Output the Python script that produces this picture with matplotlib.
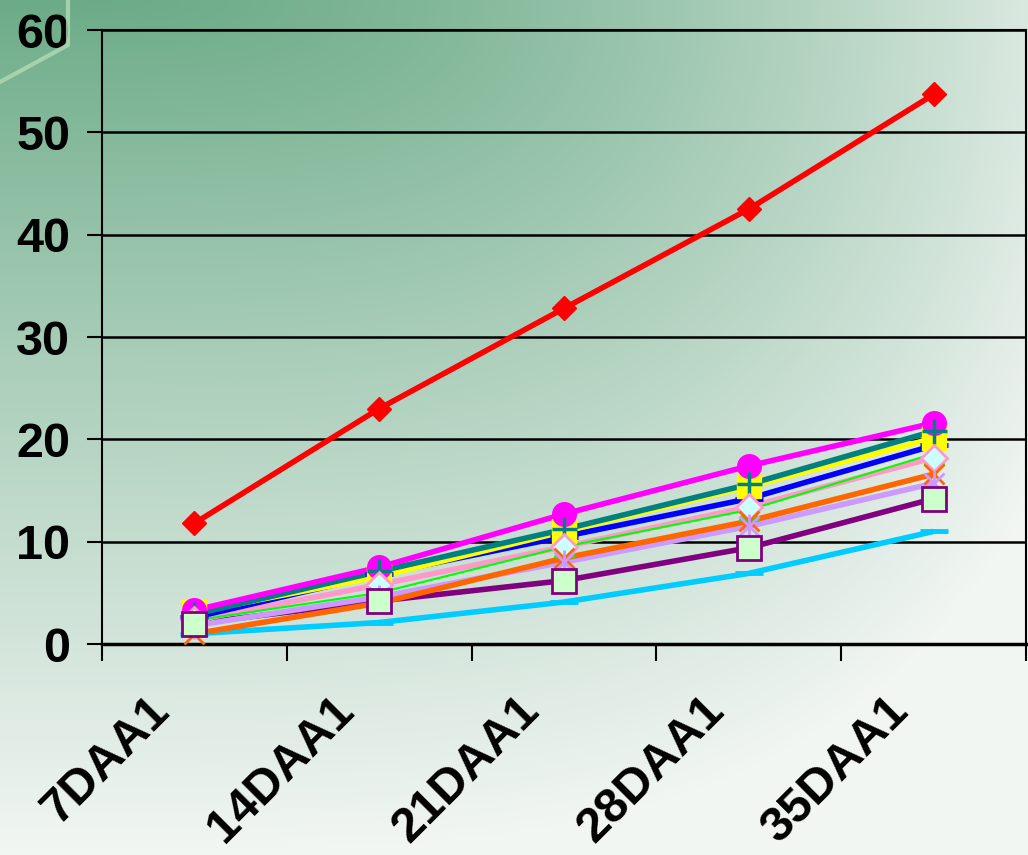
import numpy as np
import matplotlib.pyplot as plt
import matplotlib.transforms as mtransforms
from matplotlib.lines import Line2D

plt.rcParams['font.family'] = ['Liberation Sans', 'DejaVu Sans']
plt.rcParams['font.weight'] = 'bold'

days = ["7DAA1", "14DAA1", "21DAA1", "28DAA1", "35DAA1"]

red = [11.8, 23.0, 32.8, 42.5, 53.7]
magenta = [3.3, 7.5, 12.7, 17.4, 21.6]
teal = [2.9, 7.1, 11.2, 15.6, 20.8]
yellow = [3.1, 6.6, 11.0, 15.4, 20.1]
blue = [2.6, 6.8, 10.5, 14.2, 19.4]
green = [2.3, 5.0, 9.5, 13.1, 18.6]
pink = [2.3, 5.8, 9.5, 13.4, 18.2]
orange = [1.0, 4.0, 8.4, 12.0, 16.6]
lavender = [1.8, 4.6, 8.0, 11.5, 15.7]
purple = [2.0, 4.2, 6.2, 9.4, 14.2]
cyan = [1.0, 2.1, 4.1, 6.9, 11.0]

x = np.arange(len(days))

fig = plt.figure(figsize=(10.28, 8.55), dpi=100)

# background gradient, dark green top-left fading to near white
bg = fig.add_axes([0, 0, 1, 1], zorder=-10)
gx, gy = np.meshgrid(np.linspace(0, 1, 400), np.linspace(0, 1, 340))
t = np.clip(np.sqrt((0.8 * gx ** 2) ** 2 + gy ** 2), 0, 1) ** 0.9
dark = np.array([0.42, 0.67, 0.53])
light = np.array([0.95, 0.965, 0.955])
img = dark[None, None, :] * (1 - t[..., None]) + light[None, None, :] * t[..., None]
bg.imshow(img, aspect='auto', extent=[0, 1, 1, 0])
bg.set_xlim(0, 1)
bg.set_ylim(1, 0)
bg.axis('off')
fig.lines.append(Line2D([0, 68 / 1028, 68 / 1028], [1 - 82 / 855, 1 - 45 / 855, 1],
                        transform=fig.transFigure, color='#b2dbb4', lw=3, alpha=0.8))

ax = fig.add_axes([102 / 1028, 1 - 644 / 855, 924 / 1028, 614 / 855])
ax.set_facecolor('none')

# lines first, bottom to top
line_specs = [
    (cyan, '#00ccff', 4),
    (purple, '#800080', 4),
    (lavender, '#cc99ff', 4),
    (orange, '#ff6600', 4),
    (pink, '#ff99cc', 4),
    (green, '#00ff00', 1.5),
    (blue, '#0000ff', 4),
    (yellow, '#ffff00', 4),
    (teal, '#008080', 4),
    (magenta, '#ff00ff', 4),
    (red, '#ff0000', 4),
]
for i, (vals, col, lw) in enumerate(line_specs):
    ax.plot(x, vals, color=col, lw=lw, solid_capstyle='butt', zorder=3 + i * 0.01)

# markers on top of all lines
ax.plot(x, blue, ls='none', marker='_', ms=20, mew=3.5, color='#0000ff', zorder=3.98)
ax.plot(x, cyan, ls='none', marker='_', ms=20, mew=3.5, color='#00ccff', zorder=3.99)
ax.plot(x, yellow, ls='none', marker='s', ms=17, mfc='#ffff00', mec='#ffff00', zorder=4.0)
ax.plot(x, magenta, ls='none', marker='o', ms=17, mfc='#ff00ff', mec='#ff00ff', zorder=4.01)
ax.plot(x, teal, ls='none', marker='+', ms=18, mew=2.5, color='#008080', zorder=4.02)
ax.plot(x, green, ls='none', marker='^', ms=15, mfc='#00ff00', mec='#00ff00', zorder=4.03)
ax.plot(x, pink, ls='none', marker='D', ms=13, mfc='#ccffff', mec='#ff99cc', mew=2, zorder=4.04)
ax.plot(x, orange, ls='none', marker='x', ms=14, mew=2, color='#ff6600', zorder=4.05)
ax.plot(x, lavender, ls='none', marker='x', ms=14, mew=2, color='#cc99ff', zorder=4.06)
ax.plot(x, lavender, ls='none', marker='|', ms=18, mew=2, color='#cc99ff', zorder=4.06)
ax.plot(x, purple, ls='none', marker='s', ms=17, mfc='#ccffcc', mec='#800080', mew=2, zorder=4.07)
ax.plot(x, red, ls='none', marker='D', ms=12, mfc='#ff0000', mec='#ff0000', zorder=4.1)

ax.set_xlim(-0.5, 4.5)
ax.set_ylim(0, 60)
ax.set_yticks(np.arange(0, 61, 10))
ax.yaxis.grid(True, color='black', lw=1.8, zorder=1)
ax.set_axisbelow(True)

ax.set_xticks(x)
ax.set_xticklabels(days, rotation=45, ha='right', va='center', rotation_mode='anchor')
ax.set_xticks(np.arange(-0.5, 5, 1), minor=True)
ax.tick_params(axis='x', which='major', length=0, pad=50, labelsize=35)
ax.tick_params(axis='x', which='minor', length=12, width=1.5, color='black')
ax.tick_params(axis='y', length=11, width=1.5, pad=12, labelsize=35)

shift = mtransforms.ScaledTranslation(-32 / 100, 10 / 100, fig.dpi_scale_trans)
for lbl in ax.get_xticklabels():
    lbl.set_transform(lbl.get_transform() + shift)

for side in ['left', 'top', 'right']:
    ax.spines[side].set_linewidth(1.5)
    ax.spines[side].set_color('black')
ax.spines['bottom'].set_linewidth(2.5)

fig.savefig('out.png', dpi=100)
